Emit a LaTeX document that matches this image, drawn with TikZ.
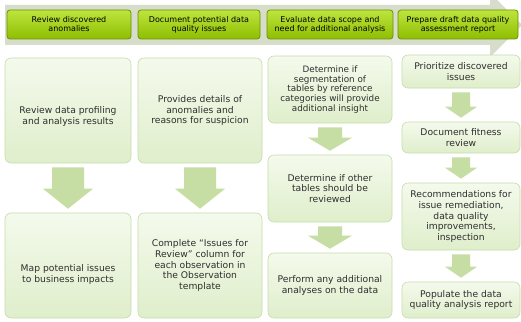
\documentclass[tikz,border=0pt]{standalone}
\usepackage{fontspec}
\setmainfont{DejaVu Sans}
\usetikzlibrary{calc}

\definecolor{bandgrey}{HTML}{D6DDCB}
\definecolor{limetop}{HTML}{BDE53E}
\definecolor{limebot}{HTML}{8EBE00}
\definecolor{limeline}{HTML}{6F8F00}
\definecolor{paletop}{HTML}{F4FAEC}
\definecolor{palebot}{HTML}{DFEECB}
\definecolor{paleline}{HTML}{C6DDAA}
\definecolor{arrowgreen}{HTML}{C6DEA4}
\definecolor{inktext}{HTML}{2E2E2E}

\tikzset{
  phase/.style={draw=limeline, line width=0.8pt, rounded corners=3pt,
    top color=limetop, bottom color=limebot, align=center, text=black,
    font=\fontsize{8}{9}\selectfont, inner sep=1pt},
  task/.style={draw=paleline, line width=0.6pt, rounded corners=6pt,
    top color=paletop, bottom color=palebot, align=center, text=inktext,
    font=\fontsize{9.2}{10.7}\selectfont, inner sep=1pt},
  tasklabel/.style={align=center, text=inktext, font=\fontsize{9.2}{10.7}\selectfont},
}

% block arrow pointing down from one node to the next:
% #1 upper node, #2 lower node, #3 stem half width, #4 head half width, #5 head length
\newcommand\flowarrow[5]{%
  \fill[arrowgreen] let \p1=($(#1.south)+(0,4)$), \p2=($(#2.north)+(0,-4)$) in
    (\x1-#3pt,\y1) -- (\x1+#3pt,\y1) -- (\x1+#3pt,\y2+#5pt) -- (\x1+#4pt,\y2+#5pt)
    -- (\x1,\y2) -- (\x1-#4pt,\y2+#5pt) -- (\x1-#3pt,\y2+#5pt) -- cycle;}

\begin{document}
\begin{tikzpicture}[x=1pt, y=-1pt]
\useasboundingbox (0,0) rectangle (521,321);
\clip (0,0) rectangle (521,321);
\fill[white] (0,0) rectangle (521,321);

% process band behind the phase headers
\fill[bandgrey] (5,5) -- (490,5) -- (490,-7) -- (522,25) -- (490,57) -- (490,45) -- (5,45) -- cycle;

% phase headers
\node[phase, minimum width=124pt, minimum height=29pt] (p1) at (69,24.5) {Review discovered\\anomalies};
\node[phase, minimum width=122pt, minimum height=29pt] (p2) at (199,24.5) {Document potential data\\quality issues};
\node[phase, minimum width=126pt, minimum height=29pt] (p3) at (330,24.5) {Evaluate data scope and\\need for additional analysis};
\node[phase, minimum width=120pt, minimum height=29pt] (p4) at (458,24.5) {Prepare draft data quality\\assessment report};

% column 1
\node[task, minimum width=126pt, minimum height=105pt,
  label={[tasklabel, yshift=-6pt]center:Review data profiling\\and analysis results}] (a1) at (68,110.5) {};
\node[task, minimum width=126pt, minimum height=105pt,
  label={[tasklabel, yshift=-9pt]center:Map potential issues\\to business impacts}] (a2) at (68,265.5) {};

% column 2
\node[task, minimum width=124pt, minimum height=105pt] (b1) at (200,110.5) {Provides details of\\anomalies and\\reasons for suspicion};
\node[task, minimum width=124pt, minimum height=105pt] (b2) at (200,265.5) {Complete “Issues for\\Review” column for\\each observation in\\the Observation\\template};

% column 3
\node[task, minimum width=124pt, minimum height=67pt, font=\fontsize{8.8}{9.6}\selectfont] (c1) at (330,89.5) {Determine if\\segmentation of\\tables by reference\\categories will provide\\additional insight};
\node[task, minimum width=124pt, minimum height=67pt] (c2) at (330,188.5) {Determine if other\\tables should be\\reviewed};
\node[task, minimum width=124pt, minimum height=65pt] (c3) at (330,285.5) {Perform any additional\\analyses on the data};

% column 4
\node[task, minimum width=118pt, minimum height=33pt] (d1) at (461,71.5) {Prioritize discovered\\issues};
\node[task, minimum width=118pt, minimum height=31pt] (d2) at (461,137.5) {Document fitness\\review};
\node[task, minimum width=118pt, minimum height=67pt] (d3) at (461,216.5) {Recommendations for\\issue remediation,\\data quality\\improvements,\\inspection};
\node[task, minimum width=118pt, minimum height=36pt] (d4) at (461,300) {Populate the data\\quality analysis report};

% arrows between tasks
\flowarrow{a1}{a2}{16}{25}{20}
\flowarrow{b1}{b2}{16}{25}{20}
\flowarrow{c1}{c2}{12}{22}{13}
\flowarrow{c2}{c3}{12}{22}{13}
\flowarrow{d1}{d2}{9}{16}{11}
\flowarrow{d2}{d3}{9}{16}{11}
\flowarrow{d3}{d4}{9}{16}{11}
\end{tikzpicture}
\end{document}
